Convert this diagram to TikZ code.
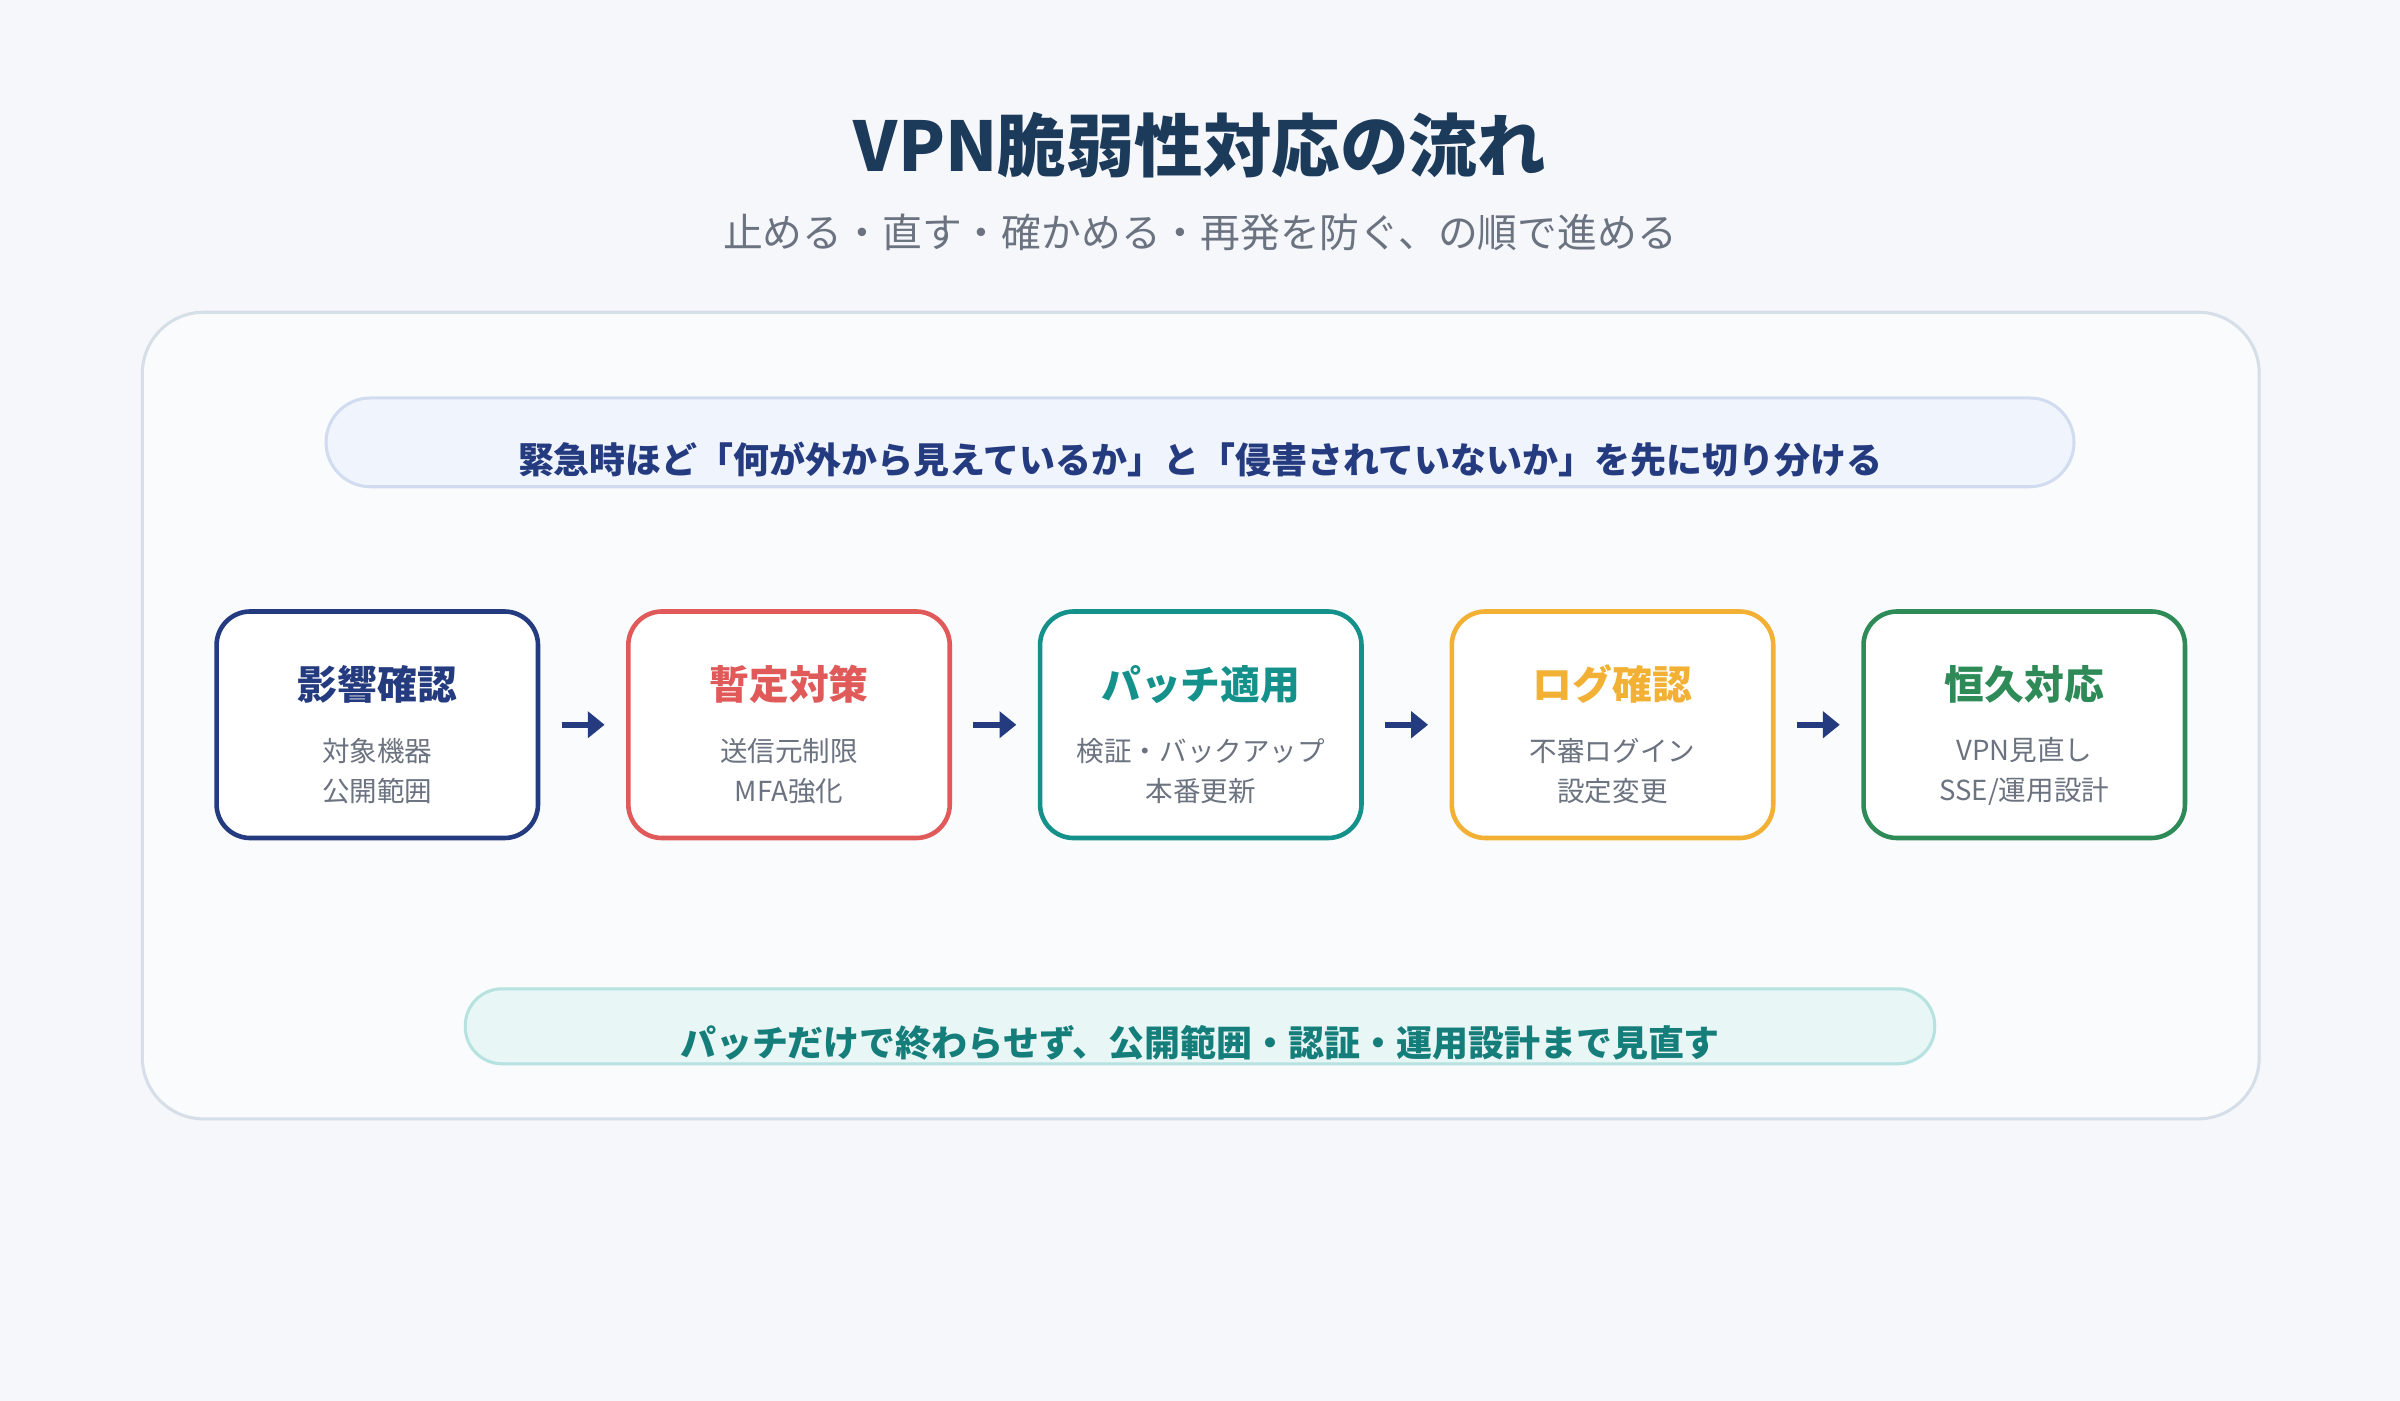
\documentclass[tikz,border=0pt]{standalone}
\usepackage{fontspec}
\setmainfont{Noto Sans CJK JP}
\usetikzlibrary{arrows.meta}
\definecolor{bg}{HTML}{F5F7FB}
\definecolor{titlec}{HTML}{1C3A5A}
\definecolor{subc}{HTML}{6B7280}
\definecolor{navy}{HTML}{253B80}
\definecolor{redc}{HTML}{E05A5A}
\definecolor{tealc}{HTML}{14918A}
\definecolor{amber}{HTML}{F2B134}
\definecolor{greenc}{HTML}{2E8B57}
\definecolor{panelD}{HTML}{D6DEE8}
\definecolor{panelF}{HTML}{FAFBFD}
\definecolor{ban1D}{HTML}{D2DCF0}
\definecolor{ban1F}{HTML}{F0F4FD}
\definecolor{ban2D}{HTML}{B6E2DF}
\definecolor{ban2F}{HTML}{E8F6F5}
\definecolor{ban2T}{HTML}{167E7A}
\tikzset{
 box/.style={draw=#1, line width=3pt, rounded corners=22pt, fill=white, minimum width=210pt, minimum height=148pt, anchor=north west},
 btitle/.style={font=\fontsize{26}{30}\selectfont\bfseries, text=#1},
 bsub/.style={font=\fontsize{18}{26}\selectfont, text=subc, align=center},
 arr/.style={draw=navy, line width=4pt, -{Triangle[length=11pt,width=17pt]}},
}
\begin{document}
\begin{tikzpicture}[x=1pt,y=-1pt]
\fill[bg] (0,0) rectangle (1568,915);
\useasboundingbox (0,0) rectangle (1568,915);
\node (title) at (784,95) {\fontsize{44.8}{52}\selectfont\bfseries\color{titlec}VPN脆弱性対応の流れ};
\node (sub) at (784,152) {\fontsize{26}{30}\selectfont\color{subc}止める・直す・確かめる・再発を防ぐ、の順で進める};
\draw[draw=panelD, line width=2pt, fill=panelF, rounded corners=40pt] (93,204) rectangle (1476,731);
\draw[draw=ban1D, line width=2pt, fill=ban1F, rounded corners=29pt] (213,260) rectangle (1355,318);
\node (b1t) at (784,300) {\fontsize{23.5}{27}\selectfont\bfseries\color{navy}緊急時ほど「何が外から見えているか」と「侵害されていないか」を先に切り分ける};
\draw[draw=ban2D, line width=2pt, fill=ban2F, rounded corners=24pt] (304,646) rectangle (1264,695);
\node (b2t) at (784,681) {\fontsize{23.5}{27}\selectfont\bfseries\color{ban2T}パッチだけで終わらせず、公開範囲・認証・運用設計まで見直す};

\node[box=navy] (n1) at (140,398) {};
\node[box=redc] (n2) at (409,398) {};
\node[box=tealc] (n3) at (678,398) {};
\node[box=amber] (n4) at (947,398) {};
\node[box=greenc] (n5) at (1216,398) {};

\foreach \n/\c/\t/\a/\b in {n1/navy/影響確認/対象機器/公開範囲, n2/redc/暫定対策/送信元制限/MFA強化, n3/tealc/パッチ適用/検証・バックアップ/本番更新, n4/amber/ログ確認/不審ログイン/設定変更, n5/greenc/恒久対応/VPN見直し/SSE\slash 運用設計}{
 \node[btitle=\c] (\n t) at ([yshift=-49pt]\n.north) {\t};
 \node[bsub] (\n s) at ([yshift=-106pt]\n.north) {\a\\\b};
}
\draw[arr] ([xshift=14pt]n1.east) -- ([xshift=-14pt]n2.west);
\draw[arr] ([xshift=14pt]n2.east) -- ([xshift=-14pt]n3.west);
\draw[arr] ([xshift=14pt]n3.east) -- ([xshift=-14pt]n4.west);
\draw[arr] ([xshift=14pt]n4.east) -- ([xshift=-14pt]n5.west);
\end{tikzpicture}
\end{document}
